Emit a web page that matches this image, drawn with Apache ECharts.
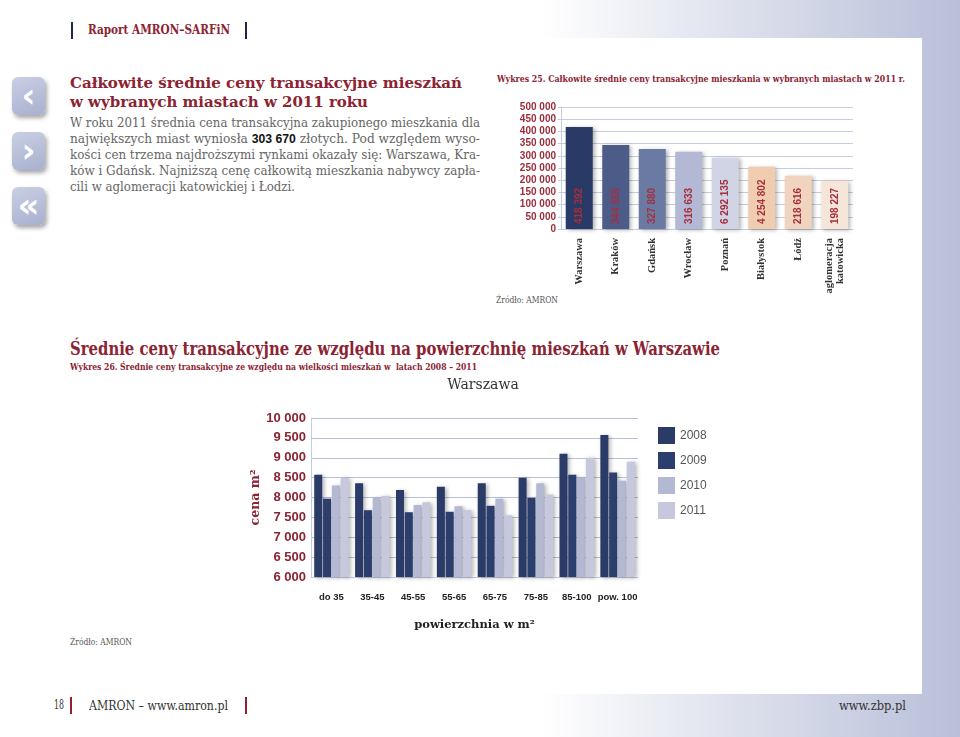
<!DOCTYPE html>
<html>
<head>
<meta charset="utf-8">
<script src="https://cdn.jsdelivr.net/npm/echarts@6/dist/echarts.min.js"></script>
<style>
body{margin:0;width:960px;height:737px;overflow:hidden;position:relative;
  background:linear-gradient(to right,#fff 0,#fff 540px,#b8bfd8 960px);font-family:'DejaVu Serif',serif;}
#panel{position:absolute;left:0;top:38px;width:922px;height:656px;background:#fff;}
#chart{position:absolute;left:0;top:0;width:960px;height:737px;}
.t{position:absolute;white-space:pre;transform-origin:0 50%;line-height:1.2;}
.vb{position:absolute;width:2px;height:17px;}
.ic{position:absolute;left:12px;width:33px;height:38px;border-radius:6px;
  background:linear-gradient(160deg,#c9cfe3,#a8b0cf);box-shadow:2px 3px 4px rgba(0,0,0,.35);
  color:#fff;font:bold 34px 'DejaVu Sans';text-align:center;line-height:36px;}
.red{color:#8b2332;font-weight:bold;}
.body{font-size:13px;color:#666;}
</style>
</head>
<body>
<div id="panel"></div>

<div class="vb" style="left:71px;top:22px;background:#1d2747"></div>
<div class="vb" style="left:245px;top:22px;background:#1d2747"></div>
<div class="t red" data-x="88" data-y="30" data-w="142" style="font-size:13px">Raport AMRON–SARFiN</div>

<div class="ic" style="top:77px">‹</div>
<div class="ic" style="top:132px">›</div>
<div class="ic" style="top:187px">«</div>

<div class="t red" data-x="70" data-y="83" data-w="392" style="font-size:15px">Całkowite średnie ceny transakcyjne mieszkań</div>
<div class="t red" data-x="70" data-y="102" data-w="298" style="font-size:15px">w wybranych miastach w 2011 roku</div>
<div class="t body" data-x="70" data-y="123" data-w="410">W roku 2011 średnia cena transakcyjna zakupionego mieszkania dla</div>
<div class="t body" data-x="70" data-y="139" data-w="410">największych miast wyniosła <b style="font-family:'Liberation Sans';color:#111">303 670</b> złotych. Pod względem wyso-</div>
<div class="t body" data-x="70" data-y="155" data-w="410">kości cen trzema najdroższymi rynkami okazały się: Warszawa, Kra-</div>
<div class="t body" data-x="70" data-y="171" data-w="410">ków i Gdańsk. Najniższą cenę całkowitą mieszkania nabywcy zapła-</div>
<div class="t body" data-x="70" data-y="187" data-w="225">cili w aglomeracji katowickiej i Łodzi.</div>

<div class="t red" data-x="497" data-y="79" data-w="408" style="font-size:10px">Wykres 25. Całkowite średnie ceny transakcyjne mieszkania w wybranych miastach w 2011 r.</div>
<div class="t" data-x="496" data-y="300" data-w="62" style="font-size:10px;color:#555">Źródło: AMRON</div>

<div class="t red" data-x="70" data-y="348" data-w="650" style="font-size:19px">Średnie ceny transakcyjne ze względu na powierzchnię mieszkań w Warszawie</div>
<div class="t red" data-x="70" data-y="367" data-w="407" style="font-size:10px">Wykres 26. Średnie ceny transakcyjne ze względu na wielkości mieszkań w  latach 2008 – 2011</div>
<div class="t" data-x="70" data-y="642" data-w="62" style="font-size:10px;color:#555">Źródło: AMRON</div>

<div class="t" data-x="54" data-y="705" data-w="10" style="font-size:12px;color:#333">18</div>
<div class="vb" style="left:70px;top:697px;width:1.5px;background:#8b2332"></div>
<div class="t" data-x="89" data-y="705" data-w="139" style="font-size:12.5px;color:#333">AMRON – www.amron.pl</div>
<div class="vb" style="left:245px;top:697px;width:1.5px;background:#8b2332"></div>
<div class="t" data-x="839" data-y="705" data-w="67" style="font-size:12.5px;color:#333">www.zbp.pl</div>

<div id="chart"></div>
<script>
// ---- data: chart 25 ----
const cities = ['Warszawa','Kraków','Gdańsk','Wrocław','Poznań','Białystok','Łódź','aglomeracja\nkatowicka'];
const cityPrices = [418392, 344555, 327880, 316633, 292135, 254802, 218616, 198227];
const cityLabels = ['418 392','344 555','327 880','316 633','6 292 135','4 254 802','218 616','198 227'];
// ---- data: chart 26 ----
const sizeClasses = ['do 35','35-45','45-55','55-65','65-75','75-85','85-100','pow. 100'];
const years = ['2008','2009','2010','2011'];
const p2008 = [8570, 8360, 8190, 8270, 8360, 8500, 9100, 9570];
const p2009 = [7970, 7680, 7630, 7640, 7790, 7990, 8570, 8630];
const p2010 = [8300, 8000, 7810, 7780, 7970, 8360, 8500, 8420];
const p2011 = [8500, 8040, 7880, 7680, 7550, 8070, 9000, 8900];

// styles
const cityColors = ['#2a3a66','#4c5b87','#6a7aa3','#b3b9d5','#d0d4e5','#f0cdb0','#f0d4bf','#f6e6da'];
const yearColors = ['#2b3b68','#2c3e6d','#b3b8d3','#c6c9de'];

// fit page texts
document.querySelectorAll('.t').forEach(el => {
  const w = +el.dataset.w, nat = el.getBoundingClientRect().width;
  el.style.left = el.dataset.x + 'px';
  el.style.top = (+el.dataset.y - el.offsetHeight / 2) + 'px';
  el.style.transform = 'scaleX(' + (w / nat) + ')';
});

const fmt = v => String(v).replace(/\B(?=(\d{3})+(?!\d))/g, ' ');
const shadow = {shadowColor:'rgba(0,0,0,0.3)', shadowBlur:4, shadowOffsetX:2, shadowOffsetY:1};
const gridLine = '#c6cce0';

const chart = echarts.init(document.getElementById('chart'));
chart.setOption({
  animation:false,
  backgroundColor:'transparent',
  graphic:[{type:'text', x:483, y:385, style:{text:'Warszawa', font:'14px "DejaVu Serif"', fill:'#333', align:'center', verticalAlign:'middle'}}],
  legend:{data:years, orient:'vertical', left:658, top:427, padding:0, itemWidth:17, itemHeight:17, itemGap:8, icon:'rect',
    textStyle:{fontFamily:'Liberation Sans', fontSize:12, color:'#555'}},
  grid:[
    {left:561, top:107, width:292, height:122},
    {left:311, top:418, width:327, height:159}
  ],
  xAxis:[
    {gridIndex:0, type:'category', data:cities,
     axisLine:{lineStyle:{color:gridLine}}, axisTick:{length:3, lineStyle:{color:'#aab'}},
     axisLabel:{interval:0, rotate:90, margin:9, fontFamily:'Liberation Serif', fontWeight:'bold', fontSize:10.5, color:'#333', lineHeight:11}},
    {gridIndex:1, type:'category', data:sizeClasses,
     axisLine:{lineStyle:{color:gridLine}}, axisTick:{length:3, lineStyle:{color:'#aab'}},
     axisLabel:{interval:0, margin:15, fontFamily:'Liberation Sans', fontWeight:'bold', fontSize:9.5, color:'#222'},
     name:'powierzchnia w m²', nameLocation:'middle', nameGap:42,
     nameTextStyle:{fontFamily:'DejaVu Serif', fontWeight:'bold', fontSize:11.5, color:'#222'}}
  ],
  yAxis:[
    {gridIndex:0, type:'value', min:0, max:500000, interval:50000,
     axisLine:{show:true, lineStyle:{color:gridLine}}, axisTick:{show:true, length:3, lineStyle:{color:gridLine}},
     splitLine:{lineStyle:{color:gridLine}},
     axisLabel:{margin:5, formatter:fmt, fontFamily:'Liberation Sans', fontWeight:'bold', fontSize:10, color:'#9b2d3b'}},
    {gridIndex:1, type:'value', min:6000, max:10000, interval:500,
     axisLine:{show:true, lineStyle:{color:gridLine}},
     splitLine:{lineStyle:{color:'#b9c0d8'}},
     axisLabel:{margin:5, formatter:fmt, fontFamily:'"Liberation Sans Narrow","Liberation Sans"', fontWeight:'bold', fontSize:13, color:'#8b2332'},
     name:'cena m²', nameLocation:'middle', nameGap:48, nameRotate:90,
     nameTextStyle:{fontFamily:'DejaVu Serif', fontWeight:'bold', fontSize:12.5, color:'#8b2332'}}
  ],
  series:[
    {type:'bar', xAxisIndex:0, yAxisIndex:0, barWidth:27,
     data:cityPrices.map((v,i)=>({value:v, itemStyle:{color:cityColors[i]}})),
     itemStyle:shadow,
     label:{show:true, position:'insideBottom', rotate:90, align:'left', verticalAlign:'middle', distance:5,
       formatter:p=>cityLabels[p.dataIndex], color:'#a52f3d', fontSize:10, fontWeight:'bold', fontFamily:'Liberation Sans'}},
    ...[p2008,p2009,p2010,p2011].map((d,i)=>({
      type:'bar', name:years[i], xAxisIndex:1, yAxisIndex:1, data:d, barWidth:8, barGap:'10%',
      itemStyle:Object.assign({color:yearColors[i]}, shadow)
    }))
  ]
});
</script>
</body>
</html>
